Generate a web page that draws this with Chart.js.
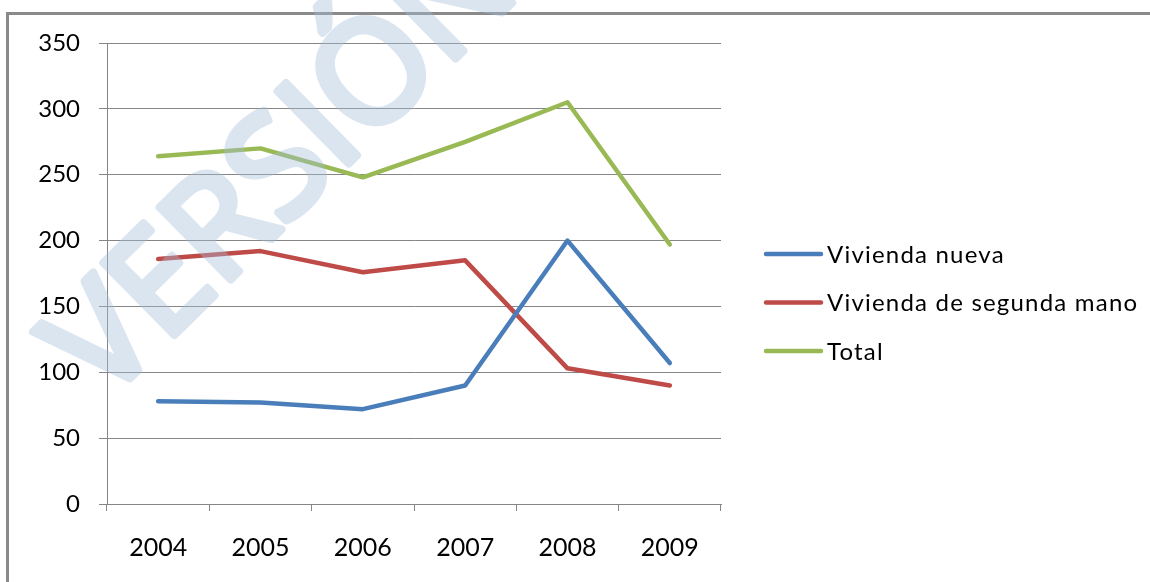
<!DOCTYPE html>
<html>
<head>
<meta charset="utf-8">
<script src="https://cdn.jsdelivr.net/npm/chart.js@4.4.1/dist/chart.umd.min.js"></script>
<style>
    html, body { margin: 0; padding: 0; background: #fff; overflow: hidden; }
    #marco { position: absolute; left: 6px; top: 12px; right: 0; bottom: 0; border-top: 3px solid #8a8a8a; border-left: 3px solid #8a8a8a; }
    #caja { position: absolute; left: 0; top: 0; width: 1150px; height: 582px; }
</style>
</head>
<body>
<div id="marco"></div>
<div id="caja"><canvas id="graficoVivienda"></canvas></div>

<script>
/* DATOS */
const anios = ["2004", "2005", "2006", "2007", "2008", "2009"];
const viviendaNueva = [78, 77, 72, 90, 200, 107];
const viviendaSegunda = [186, 192, 176, 185, 103, 90];
const totalVivienda = [264, 270, 248, 275, 305, 197];
const ticksY = [0, 50, 100, 150, 200, 250, 300, 350];

const fuente = "Lato";
const gris = "#868686";


/* LEYENDA A MANO (a la derecha) */
const leyendaPropia = {
    id: "leyendaPropia",
    afterDraw(chart) {
        const ctx = chart.ctx;
        const x0 = chart.chartArea.right + 45;
        ctx.save();
        ctx.lineWidth = 4.5;
        ctx.lineCap = "round";
        ctx.font = "24px " + fuente;
        ctx.letterSpacing = "1.2px";
        ctx.textBaseline = "middle";
        ctx.fillStyle = "#000";
        chart.data.datasets.forEach((ds, i) => {
            const y = 254 + i * 48.5;
            ctx.strokeStyle = ds.borderColor;
            ctx.beginPath();
            ctx.moveTo(x0, y);
            ctx.lineTo(x0 + 55, y);
            ctx.stroke();
            ctx.fillText(ds.label, x0 + 61, y + 1);
        });
        ctx.restore();
    }
};


/* MARCA DE AGUA "VERSIÓN" */
const marcaAgua = {
    id: "marcaAgua",
    afterDraw(chart) {
        const capa = document.createElement("canvas");
        capa.width = chart.width;
        capa.height = chart.height;
        const c = capa.getContext("2d");
        c.translate(104, 404);
        c.rotate(-44.5 * Math.PI / 180);
        c.font = "142px 'Open Sans'";
        c.fillStyle = "rgb(165,190,218)";
        c.strokeStyle = "rgb(165,190,218)";
        c.lineWidth = 8;
        c.lineJoin = "round";
        c.fillText("VERSIÓN", 0, 0);
        c.strokeText("VERSIÓN", 0, 0);

        const ctx = chart.ctx;
        ctx.save();
        ctx.globalAlpha = 0.4;
        ctx.drawImage(capa, 0, 0);
        ctx.restore();
    }
};


/* GRAFICO */
new Chart(document.getElementById("graficoVivienda"), {
    type: "line",
    data: {
        labels: anios,
        datasets: [{
            label: "Vivienda nueva",
            data: viviendaNueva,
            borderColor: "#4a7ebb"
        }, {
            label: "Vivienda de segunda mano",
            data: viviendaSegunda,
            borderColor: "#be4b48"
        }, {
            label: "Total",
            data: totalVivienda,
            borderColor: "#98b954"
        }]
    },
    options: {
        responsive: true,
        maintainAspectRatio: false,
        animation: false,
        layout: { padding: { top: 43, right: 429, bottom: 0, left: 0 } },
        elements: {
            line: { borderWidth: 4.5, tension: 0, borderJoinStyle: "round", borderCapStyle: "round" },
            point: { radius: 0 }
        },
        plugins: {
            legend: { display: false },
            tooltip: { enabled: false }
        },
        scales: {
            x: {
                offset: true,
                grid: { display: true, drawOnChartArea: false, offset: true, tickLength: 7, color: gris },
                border: { color: gris, width: 1 },
                ticks: { color: "#000", padding: 22, font: { family: fuente, size: 25 } },
                afterFit(escala) { escala.height = 78; }
            },
            y: {
                min: 0,
                max: 350,
                afterBuildTicks(escala) { escala.ticks = ticksY.map(v => ({ value: v })); },
                grid: { color: gris, tickLength: 8 },
                border: { color: gris, width: 1 },
                ticks: { color: "#000", padding: 19, font: { family: fuente, size: 24 } },
                afterFit(escala) { escala.width = 107; }
            }
        }
    },
    plugins: [leyendaPropia, marcaAgua]
});
</script>
</body>
</html>
